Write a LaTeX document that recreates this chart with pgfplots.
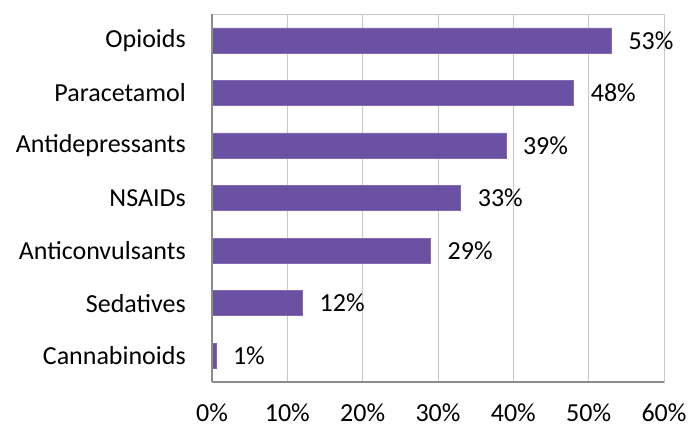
\documentclass[border=0pt]{standalone}
\usepackage{fontspec}
\setmainfont{Carlito}
\usepackage{pgfplots}
\usepackage{pgfplotstable}
\pgfplotsset{compat=1.18}

\definecolor{barpurple}{HTML}{6A51A3}
\definecolor{gridgray}{HTML}{C8C8C8}
\definecolor{axisgray}{HTML}{8C8C8C}

% share of patients, one row per drug class (top to bottom)
\pgfplotstableread{
pos value label
0   53    53\%
1   48    48\%
2   39    39\%
3   33    33\%
4   29    29\%
5   12    12\%
6   0.5   1\%
}\drugs

\begin{document}
\begin{tikzpicture}
\begin{axis}[
    scale only axis,
    width=452bp, height=368bp,
    xbar, bar width=25bp,
    xmin=0, xmax=60, xtick={0,10,...,60},
    ymin=-0.5, ymax=6.5, y dir=reverse,
    ytick={0,...,6},
    yticklabels={Opioids,Paracetamol,Antidepressants,NSAIDs,Anticonvulsants,Sedatives,Cannabinoids},
    xticklabel={\pgfmathprintnumber{\tick}\%},
    /pgf/number format/assume math mode=true,
    font=\fontsize{26bp}{30bp}\selectfont,
    major tick length=0pt,
    tick style={draw=none},
    xmajorgrids, grid style={gridgray, line width=1bp},
    axis line style={gridgray, line width=1bp},
    xticklabel style={inner sep=0pt, anchor=north, yshift=-22bp},
    yticklabel style={inner sep=0pt, anchor=east, xshift=-26bp},
    nodes near coords,
    point meta=explicit symbolic,
    every node near coord/.append style={anchor=west, inner sep=0pt, xshift=17bp, black},
    clip=false,
]
\addplot[fill=barpurple, draw=barpurple!85!white, line width=0.5bp]
    table[x=value, y=pos, meta=label] {\drugs};
\coordinate (bl) at (rel axis cs:0,0);
\coordinate (tr) at (rel axis cs:1,1);
\draw[axisgray, line width=1.2bp] (rel axis cs:0,0) -- (rel axis cs:0,1);
\draw[axisgray, line width=1.2bp] (rel axis cs:0,0) -- (rel axis cs:1,0);
\end{axis}
\path ([shift={(-212bp,-46bp)}]bl) rectangle ([shift={(24bp,14bp)}]tr);
\end{tikzpicture}
\end{document}
